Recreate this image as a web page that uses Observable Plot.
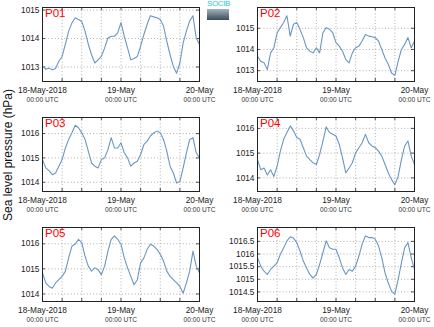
<!DOCTYPE html>
<html>
<head>
<meta charset="utf-8">
<script src="https://cdn.jsdelivr.net/npm/d3@7"></script>
<script src="https://cdn.jsdelivr.net/npm/@observablehq/plot@0.6"></script>
<style>
  body { margin: 0; background: #fff; }
  #wrap { position: relative; width: 434px; height: 327px; overflow: hidden; font-family: "Liberation Sans", Arial, sans-serif; }
  #wrap svg { position: absolute; overflow: visible; }
  #ylab { position: absolute; left: 15px; top: 155px; transform-origin: 0 0; transform: rotate(-90deg) translate(-50%, -100%); white-space: nowrap; font-size: 12px; color: #111; }
  #logo { position: absolute; left: 207px; top: 0px; width: 22px; height: 20px; }
  #logo .t { font-size: 8px; color: #2fc4e0; line-height: 8px; text-align: center; letter-spacing: -0.4px; }
  #logo .b { margin-top: 1px; height: 11px; background: linear-gradient(#a3b3bf, #3a4c59); }
</style>
</head>
<body>
<div id="wrap">
  <div id="ylab">Sea level pressure (hPa)</div>
  <div id="logo"><div class="t">SOCIB</div><div class="b"></div></div>
</div>
<script>
// Hourly samples, 18-May-2018 00:00 UTC to 20-May-2018 00:00 UTC
const hours = d3.range(0, 49);
const panelNames = ["P01", "P02", "P03", "P04", "P05", "P06"];

const p01 = [1013.02,1012.92,1012.96,1012.90,1012.95,1013.20,1013.37,1013.80,1014.26,1014.55,1014.73,1014.67,1014.60,1014.26,1013.80,1013.43,1013.14,1013.25,1013.37,1013.67,1014.02,1014.08,1014.08,1014.20,1014.56,1014.08,1013.67,1013.25,1013.30,1013.37,1013.73,1014.14,1014.50,1014.80,1014.76,1014.73,1014.67,1014.44,1013.90,1013.43,1013.02,1012.78,1013.14,1013.85,1014.26,1014.62,1014.80,1014.02,1013.79];
const p02 = [1013.68,1013.44,1013.37,1013.05,1013.84,1014.08,1014.79,1015.03,1015.27,1015.59,1014.63,1015.19,1015.27,1014.95,1014.56,1014.08,1013.92,1013.84,1014.08,1013.84,1014.79,1015.03,1014.95,1014.79,1014.32,1014.16,1013.92,1013.52,1013.37,1013.84,1014.08,1014.16,1014.40,1014.71,1014.63,1014.60,1014.56,1014.40,1014.00,1013.60,1013.29,1012.89,1012.78,1013.44,1014.00,1014.24,1014.56,1014.08,1014.40];
const p03 = [1014.93,1014.59,1014.48,1014.31,1014.38,1014.66,1014.93,1015.41,1015.76,1016.03,1016.34,1016.24,1016.03,1015.76,1015.28,1014.79,1014.66,1014.59,1014.93,1015.00,1015.34,1015.83,1015.41,1015.41,1015.62,1015.21,1015.00,1014.66,1014.79,1014.86,1015.14,1015.55,1015.69,1015.90,1016.03,1016.10,1016.03,1015.76,1015.28,1014.66,1014.38,1013.97,1014.03,1014.59,1015.21,1015.76,1015.83,1015.21,1015.00];
const p04 = [1014.74,1014.33,1014.40,1014.12,1014.33,1014.06,1014.47,1015.08,1015.56,1015.83,1016.10,1015.90,1015.63,1015.56,1015.22,1014.88,1014.74,1014.61,1014.54,1014.95,1015.49,1016.06,1015.83,1015.76,1015.69,1015.35,1014.81,1014.20,1014.40,1014.61,1015.01,1015.22,1015.42,1015.76,1015.42,1015.29,1015.22,1015.08,1014.88,1014.54,1014.20,1013.93,1013.72,1014.06,1014.74,1015.29,1015.49,1014.88,1014.54];
const p05 = [1014.84,1014.44,1014.30,1014.23,1014.44,1014.57,1014.70,1014.91,1015.44,1015.91,1015.98,1016.18,1016.05,1015.51,1015.11,1014.91,1015.04,1014.97,1014.77,1015.11,1015.71,1016.18,1016.32,1016.18,1015.98,1015.44,1015.04,1014.70,1014.37,1014.57,1015.24,1015.44,1015.78,1015.98,1015.91,1015.78,1015.58,1015.31,1014.91,1014.70,1014.57,1014.44,1014.30,1014.03,1014.44,1014.91,1015.71,1015.11,1014.84];
const p06 = [1015.85,1015.52,1015.32,1015.19,1015.39,1015.52,1015.65,1015.99,1016.25,1016.52,1016.68,1016.63,1016.45,1016.12,1015.72,1015.45,1015.19,1015.05,1015.19,1015.59,1016.05,1016.52,1016.25,1016.19,1016.19,1015.85,1015.45,1015.19,1015.39,1015.32,1015.52,1015.92,1016.39,1016.72,1016.65,1016.65,1016.59,1016.32,1015.85,1015.25,1014.85,1014.52,1014.41,1014.99,1015.65,1016.25,1016.45,1015.85,1015.39];

const yDomains = [[1012.49,1015.09],[1012.49,1015.98],[1013.62,1016.66],[1013.45,1016.44],[1013.70,1016.65],[1014.12,1017.05]];
const yTicks = [[1013,1014,1015],[1013,1014,1015],[1014,1015,1016],[1014,1015,1016],[1014,1015,1016],[1014.5,1015,1015.5,1016,1016.5]];

const xTickLabels = ["18-May-2018", "19-May", "20-May"];
const xTickSub = ["00:00 UTC", "00:00 UTC", "00:00 UTC"];

const series = [p01, p02, p03, p04, p05, p06];
const t0 = Date.UTC(2018, 4, 18);
const toDate = h => new Date(t0 + h * 3600e3);
const xTicks = [0, 24, 48].map(toDate);
const grid6 = [6, 12, 18, 24, 30, 36, 42].map(toDate);
const allTicks6 = [0, 6, 12, 18, 24, 30, 36, 42, 48].map(toDate);

const wrap = document.getElementById("wrap");
const lineColor = "#6a97c2";

series.forEach((vals, i) => {
  const data = hours.map((h, k) => ({t: toDate(h), v: vals[k]}));
  const [y0, y1] = yDomains[i];
  const tl = (y1 - y0) * 3 / 74; // tick length
  const x0 = toDate(0), x1 = toDate(48);
  const tx = 48 * 3 / 157 * 3600e3;
  const yt = yTicks[i];
  const plot = Plot.plot({
    width: 215,
    height: 110,
    marginLeft: 42,
    marginRight: 16,
    marginTop: 7,
    marginBottom: 29,
    style: {fontFamily: "Liberation Sans, Arial, sans-serif", fontSize: "8.3px", background: "transparent", color: "#222"},
    x: {type: "utc", domain: [x0, x1], axis: null},
    y: {domain: [y0, y1], axis: null},
    marks: [
      Plot.ruleX(grid6, {stroke: "#9a9a9a", strokeDasharray: "1,2.2", strokeWidth: 0.8}),
      Plot.ruleY(yt, {stroke: "#9a9a9a", strokeDasharray: "1,2.2", strokeWidth: 0.8}),
      Plot.ruleX(allTicks6, {y1: y0, y2: y0 + tl, stroke: "#222", strokeWidth: 0.8}),
      Plot.ruleX(allTicks6, {y1: y1, y2: y1 - tl, stroke: "#222", strokeWidth: 0.8}),
      Plot.ruleY(yt, {x1: x0, x2: new Date(+x0 + tx), stroke: "#222", strokeWidth: 0.8}),
      Plot.ruleY(yt, {x1: x1, x2: new Date(+x1 - tx), stroke: "#222", strokeWidth: 0.8}),
      Plot.axisY({ticks: yt, label: null, tickSize: 0, tickPadding: 3, tickFormat: d => String(d), fontSize: 8.3, fill: "#222"}),
      Plot.line(data, {x: "t", y: "v", stroke: lineColor, strokeWidth: 1.1}),
      Plot.frame({stroke: "#222", strokeWidth: 1}),
      Plot.text([panelNames[i]], {frameAnchor: "top-left", dx: 2.5, dy: 1.5, lineAnchor: "top", textAnchor: "start", fill: "#ff0000", fontSize: 11.5}),
      Plot.text(xTicks, {x: d => d, frameAnchor: "bottom", text: (d, k) => xTickLabels[k], dy: 8.5, lineAnchor: "middle", fontSize: 8.3, fill: "#222"}),
      Plot.text(xTicks, {x: d => d, frameAnchor: "bottom", text: (d, k) => xTickSub[k], dy: 18, lineAnchor: "middle", fontSize: 6.6, fill: "#333"})
    ]
  });
  const col = i % 2, row = Math.floor(i / 2);
  plot.style.left = (col * 215) + "px";
  plot.style.top = (row * 110 + 0.3) + "px";
  wrap.appendChild(plot);
});
</script>
</body>
</html>
